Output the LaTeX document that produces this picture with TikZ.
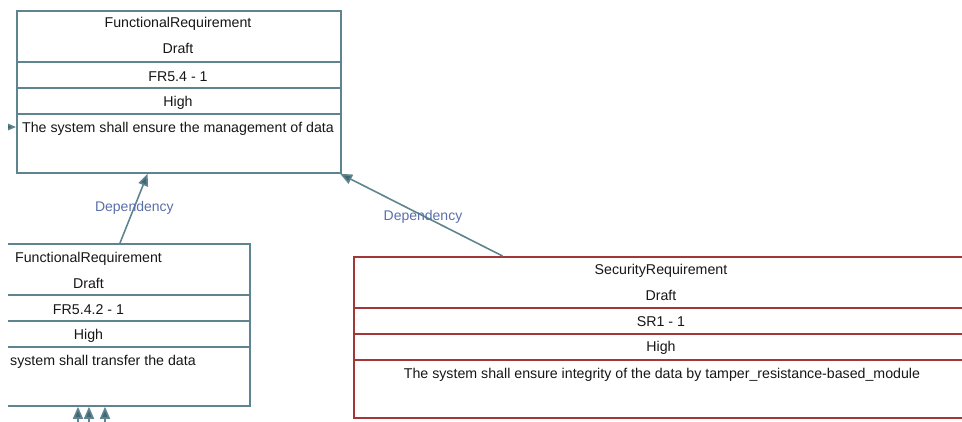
\documentclass[tikz,border=0pt]{standalone}
\usepackage{fontspec}
\setmainfont{Liberation Sans}
\usetikzlibrary{arrows.meta,calc}
\definecolor{boxgray}{HTML}{5E858F}
\definecolor{tipgray}{HTML}{406873}
\definecolor{boxred}{HTML}{A33636}
\definecolor{deplabel}{HTML}{5A6EAA}
\definecolor{ink}{HTML}{161616}
\tikzset{
  graybox/.style={draw=boxgray, line width=1.8pt, inner sep=0pt, anchor=north west},
  redbox/.style={draw=boxred, line width=1.8pt, inner sep=0pt, anchor=north west},
  graydiv/.style={draw=boxgray, line width=1.8pt},
  reddiv/.style={draw=boxred, line width=1.8pt},
  field/.style={inner sep=0pt, text=ink, font=\fontsize{14.2}{16}\selectfont, yshift=-1.5pt},
  dep/.style={draw=boxgray, line width=1.6pt, -{Triangle[length=12pt,width=10pt,fill=tipgray]}},
  deptext/.style={inner sep=0pt, text=deplabel, font=\fontsize{14}{16}\selectfont, yshift=-1pt},
}
\begin{document}
\begin{tikzpicture}[x=1pt,y=-1pt]
\useasboundingbox (0,0) rectangle (962,421);
\clip (8,0) rectangle (962,421);

% FR5.4 requirement box
\node[graybox, minimum width=324pt, minimum height=162pt] (fr) at (16,10) {};
\foreach \y in {62,88,114} \draw[graydiv] (16,\y) -- (340,\y);
\node[field] (frt) at (178,22) {FunctionalRequirement};
\node[field] (frs) at (178,47) {Draft};
\node[field] (fri) at (178,75) {FR5.4 - 1};
\node[field] (frp) at (178,101) {High};
\node[field] (frd) at (178,127) {The system shall ensure the management of data};

% FR5.4.2 requirement box
\node[graybox, minimum width=322pt, minimum height=162pt] (fs) at (-73,243) {};
\foreach \y in {295,321,347} \draw[graydiv] (-73,\y) -- (249,\y);
\node[field] (fst) at (88.5,257) {FunctionalRequirement};
\node[field] (fss) at (88.5,282) {Draft};
\node[field] (fsi) at (88.5,308) {FR5.4.2 - 1};
\node[field] (fsp) at (88.5,334) {High};
\node[field, anchor=west] (fsd) at (10,360) {system shall transfer the data};

% SR1 security requirement box
\node[redbox, minimum width=616pt, minimum height=161pt] (sr) at (353,256) {};
\foreach \y in {308,334,360} \draw[reddiv] (353,\y) -- (969,\y);
\node[field] (srt) at (661,269) {SecurityRequirement};
\node[field] (srs) at (661,294) {Draft};
\node[field] (sri) at (661,320) {SR1 - 1};
\node[field] (srp) at (661,346) {High};
\node[field] (srd) at (662,373) {The system shall ensure integrity of the data by tamper\_resistance-based\_module};

% dependencies
\coordinate (d1s) at ($(fs.north west)!0.596!(fs.north east)$);
\coordinate (d1e) at ($(fr.south west)!0.404!(fr.south east)$);
\draw[dep] (d1s) -- (d1e) node[deptext, pos=0.52] (d1l) {Dependency};

\coordinate (d2s) at ($(sr.north west)!0.242!(sr.north east)$);
\coordinate (d2e) at ($(fr.south west)!0.995!(fr.south east)$);
\draw[dep] (d2s) -- (d2e) node[deptext, pos=0.49] (d2l) {Dependency};

% incoming links from outside the view
\coordinate (inl) at (3,127);
\draw[dep] (inl) -- (fr.west |- inl);
\foreach \x/\n in {78/a,89/b,105/c} {
  \coordinate (in\n) at (\x,430);
  \draw[dep] (in\n) -- (in\n |- fs.south);
}
\end{tikzpicture}
\end{document}
